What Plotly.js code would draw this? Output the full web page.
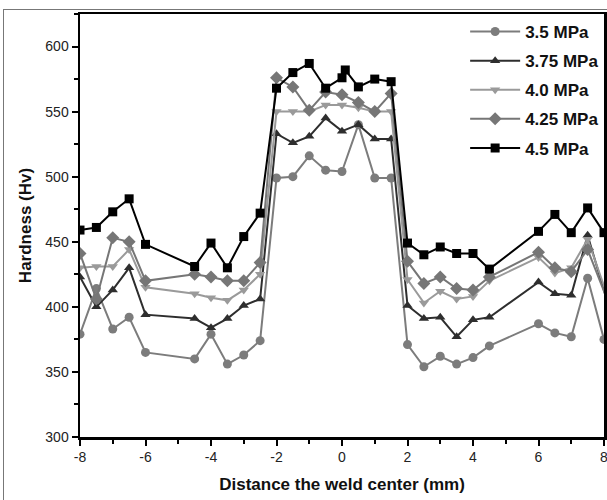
<!DOCTYPE html>
<html>
<head>
<meta charset="utf-8">
<script src="https://cdn.plot.ly/plotly-3.0.1.min.js"></script>
<style>
  html, body { margin: 0; padding: 0; background: #fff; }
  #chart { width: 607px; height: 500px; position: relative; }
  #frame { position: absolute; left: 3px; top: 9px; width: 610px; height: 500px;
           border-left: 1.5px solid #777; border-top: 1.5px solid #777; pointer-events: none; }
</style>
</head>
<body>
<div id="chart"></div>
<div id="frame"></div>
<script>
// ---- data ----
const seriesNames = ["3.5 MPa", "3.75 MPa", "4.0 MPa", "4.25 MPa", "4.5 MPa"];

const xCommon = [-8, -7.5, -7, -6.5, -6, -4.5, -4, -3.5, -3, -2.5,
                 -2, -1.5, -1, -0.5, 0, 0.5, 1, 1.5,
                 2, 2.5, 3, 3.5, 4, 4.5, 6, 6.5, 7, 7.5, 8];
const xTail = [-8, -7.5, -7, -6.5, -6, -4.5, -4, -3.5, -3, -2.5,
               -2, -1.5, -1, -0.5, 0, 0.5, 1, 1.5,
               2, 2.5, 3, 3.5, 4, 4.5, 6, 6.5, 7, 7.5, 8.5];
const x45 = [-8, -7.5, -7, -6.5, -6, -4.5, -4, -3.5, -3, -2.5,
             -2, -1.5, -1, -0.5, 0, 0.1, 0.5, 1, 1.5,
             2, 2.5, 3, 3.5, 4, 4.5, 6, 6.5, 7, 7.5, 8];

const y35 = [379, 414, 383, 392, 365, 360, 379, 356, 363, 374,
             499, 500, 516, 505, 504, 540, 499, 499,
             371, 354, 362, 356, 361, 370, 387, 380, 377, 422, 375];
const y375 = [423, 400, 413, 430, 394, 391, 384, 391, 401, 406,
              533, 526, 531, 545, 535, 540, 529, 529,
              401, 391, 392, 377, 390, 392, 419, 410, 409, 455, 370];
const y40 = [430, 431, 431, 444, 415, 410, 407, 405, 413, 425,
             550, 550, 550, 555, 555, 553, 550, 550,
             421, 403, 412, 406, 408, 420, 438, 426, 430, 452, 380];
const y425 = [441, 406, 453, 450, 420, 425, 423, 420, 420, 434,
              576, 569, 551, 565, 563, 557, 550, 564,
              435, 418, 423, 414, 413, 423, 442, 430, 427, 444, 380];
const y45 = [459, 461, 473, 483, 448, 431, 449, 430, 454, 472,
             568, 580, 587, 568, 576, 582, 569, 575, 573,
             449, 440, 446, 441, 441, 429, 458, 471, 457, 476, 457];

const xTickVals = [-8, -6, -4, -2, 0, 2, 4, 6, 8];
const yTickVals = [300, 350, 400, 450, 500, 550, 600];

// ---- styles ----
const colors = ["#7c7c7c", "#2e2e2e", "#9a9a9a", "#767676", "#000000"];
const symbols = ["circle", "triangle-up", "triangle-down", "diamond", "square"];
const xs = [xCommon, xTail, xTail, xTail, x45];
const ys = [y35, y375, y40, y425, y45];

const traces = seriesNames.map((n, i) => ({
  type: "scatter",
  mode: "lines+markers",
  name: n,
  legendgroup: "g" + i,
  x: xs[i],
  y: ys[i],
  line: { color: colors[i], width: 2 },
  marker: { symbol: symbols[i], color: colors[i], size: i === 3 ? 10 : 9 },
  cliponaxis: true
}));

const axisCommon = {
  showline: true, linewidth: 2.5, linecolor: "#000", mirror: true,
  ticks: "outside", ticklen: 6, tickwidth: 2, tickcolor: "#000",
  showgrid: false, zeroline: false, ticklabeloverflow: "allow",
  tickfont: { family: "Liberation Sans, Arial, sans-serif", size: 14, color: "#222" }
};

const layout = {
  width: 607, height: 500,
  margin: { l: 80, r: 3, t: 14, b: 63 },
  paper_bgcolor: "#fff", plot_bgcolor: "#fff",
  showlegend: true,
  legend: {
    x: 0.735, y: 1.0, xanchor: "left", yanchor: "top",
    bgcolor: "rgba(0,0,0,0)", borderwidth: 0,
    itemwidth: 50, tracegroupgap: 4, traceorder: "grouped",
    font: { family: "Liberation Sans, Arial, sans-serif", size: 17, color: "#111", weight: "bold" }
  },
  xaxis: Object.assign({}, axisCommon, {
    range: [-8, 8], tickvals: xTickVals, ticktext: xTickVals.map(String),
    minor: { dtick: 1, ticks: "outside", ticklen: 4, tickwidth: 2, tickcolor: "#000" },
    title: { text: "<b>Distance the weld center (mm)</b>", standoff: 14,
             font: { family: "Liberation Sans, Arial, sans-serif", size: 17, color: "#111" } }
  }),
  yaxis: Object.assign({}, axisCommon, {
    range: [300, 625], tickvals: yTickVals, ticktext: yTickVals.map(String),
    minor: { dtick: 25, ticks: "outside", ticklen: 4, tickwidth: 2, tickcolor: "#000" },
    title: { text: "<b>Hardness (Hv)</b>", standoff: 10,
             font: { family: "Liberation Sans, Arial, sans-serif", size: 17, color: "#111" } }
  })
};

Plotly.newPlot("chart", traces, layout, { displayModeBar: false, staticPlot: true });
</script>
</body>
</html>
